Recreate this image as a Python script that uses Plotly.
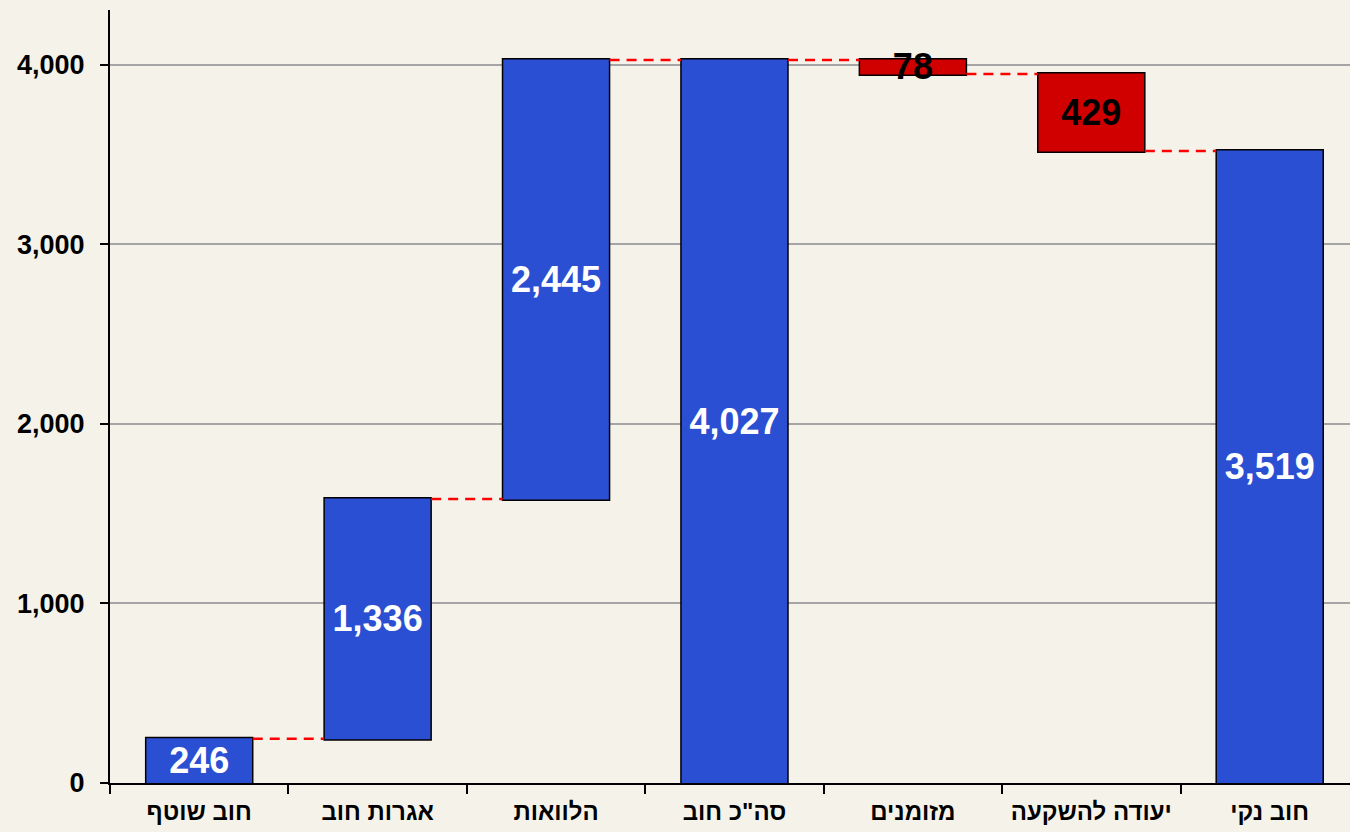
import plotly.graph_objects as go

categories = ["חוב שוטף", "אגרות חוב", "הלוואות", "סה\"כ חוב", "מזומנים", "יעודה להשקעה", "חוב נקי"]
values = [246, 1336, 2445, 0, -78, -429, 0]
measures = ["relative", "relative", "relative", "total", "relative", "relative", "total"]
labels = ["246", "1,336", "2,445", "4,027", "78", "429", "3,519"]
label_colors = ["white", "white", "white", "white", "black", "black", "white"]
ytick_vals = [0, 1000, 2000, 3000, 4000]

blue = "#2B4FD2"
red = "#D00000"
bg = "#F5F3E9"

fig = go.Figure(go.Waterfall(
    x=categories,
    y=values,
    measure=measures,
    text=labels,
    textposition="inside",
    insidetextanchor="middle",
    constraintext="none",
    textangle=0,
    textfont=dict(family="Liberation Sans, Arial, sans-serif", size=36, color=label_colors, weight="bold"),
    increasing=dict(marker=dict(color=blue, line=dict(color="black", width=1.5))),
    decreasing=dict(marker=dict(color=red, line=dict(color="black", width=1.5))),
    totals=dict(marker=dict(color=blue, line=dict(color="black", width=1.5))),
    connector=dict(mode="between", line=dict(color="#FF0000", width=2.5, dash="10px,7px")),
    width=0.6,
    hoverinfo="skip",
))

fig.update_layout(
    width=1350, height=832,
    paper_bgcolor=bg, plot_bgcolor=bg,
    margin=dict(l=110, r=0, t=10, b=49),
    showlegend=False,
    uniformtext=dict(minsize=36, mode="show"),
    font=dict(family="Liberation Sans, Arial, sans-serif", color="black"),
)
fig.update_xaxes(
    range=[-0.5, 6.45],
    showline=True, linecolor="black", linewidth=2,
    ticks="outside", tickson="boundaries", ticklen=9, tickwidth=2, tickcolor="black",
    ticklabelstandoff=6,
    tickfont=dict(size=24, color="black", weight="bold"),
    showgrid=False,
)
fig.update_yaxes(
    range=[0, 4305],
    tickvals=ytick_vals, tickformat=",",
    showline=True, linecolor="black", linewidth=2,
    ticks="outside", ticklen=8, tickwidth=2, tickcolor="black",
    ticklabelstandoff=10,
    tickfont=dict(size=27, color="black", weight="bold"),
    showgrid=True, gridcolor="#A5A5A5", gridwidth=2,
    zeroline=False,
)

fig.write_html(
    "out.html",
    config={"displayModeBar": False},
    post_script="document.body.style.margin='0';document.body.style.background='%s';" % bg,
)
